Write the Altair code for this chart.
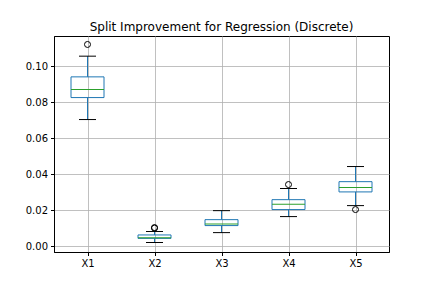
import altair as alt
import pandas as pd

categories = ["X1", "X2", "X3", "X4", "X5"]
whisker_low = [0.0704, 0.0021, 0.0076, 0.0165, 0.0226]
q1 = [0.0826, 0.0044, 0.0115, 0.0204, 0.0302]
median = [0.0871, 0.0048, 0.0124, 0.0233, 0.0326]
q3 = [0.0941, 0.0063, 0.0148, 0.0259, 0.0359]
whisker_high = [0.1056, 0.0082, 0.0198, 0.0321, 0.0443]
outlier_cat = ["X1", "X2", "X2", "X4", "X5"]
outlier_val = [0.1121, 0.0104, 0.0101, 0.0343, 0.0204]
y_ticks = [0.0, 0.02, 0.04, 0.06, 0.08, 0.10]

stats = pd.DataFrame({
    "cat": categories, "lo": whisker_low, "q1": q1, "med": median,
    "q3": q3, "hi": whisker_high,
})
outl = pd.DataFrame({"cat": outlier_cat, "val": outlier_val})

BLUE = "#1f77b4"
GREEN = "#2ca02c"

x = alt.X("cat:N", scale=alt.Scale(type="point", padding=0.5, domain=categories),
          axis=alt.Axis(title=None, labelAngle=0, grid=True))
yscale = alt.Scale(domain=[-0.00317, 0.1168], nice=False, zero=False)
yaxis = alt.Axis(title=None, values=y_ticks, format=".2f", grid=True)

base = alt.Chart(stats)

lower = base.mark_rule(color=BLUE, strokeWidth=1).encode(
    x=x, y=alt.Y("lo:Q", scale=yscale, axis=yaxis), y2="q1:Q")
upper = base.mark_rule(color=BLUE, strokeWidth=1).encode(
    x=x, y=alt.Y("q3:Q", scale=yscale, axis=yaxis), y2="hi:Q")
box = base.mark_bar(size=33, fillOpacity=0, stroke=BLUE, strokeWidth=1).encode(
    x=x, y=alt.Y("q1:Q", scale=yscale, axis=yaxis), y2="q3:Q")
med = base.mark_tick(color=GREEN, size=33, thickness=1, opacity=1).encode(
    x=x, y=alt.Y("med:Q", scale=yscale, axis=yaxis))
cap_lo = base.mark_tick(color="black", size=17, thickness=1, opacity=1).encode(
    x=x, y=alt.Y("lo:Q", scale=yscale, axis=yaxis))
cap_hi = base.mark_tick(color="black", size=17, thickness=1, opacity=1).encode(
    x=x, y=alt.Y("hi:Q", scale=yscale, axis=yaxis))
fliers = alt.Chart(outl).mark_point(shape="circle", filled=False, color="black",
                                    size=36, strokeWidth=1, opacity=1).encode(
    x=x, y=alt.Y("val:Q", scale=yscale, axis=yaxis))

chart = alt.layer(lower, upper, box, med, cap_lo, cap_hi, fliers).properties(
    width=335, height=216,
    background="white",
    title=alt.Title("Split Improvement for Regression (Discrete)", fontSize=12,
                    font="DejaVu Sans", fontWeight="normal", color="black",
                    anchor="middle", offset=2),
    autosize=alt.AutoSizeParams(type="none"),
    padding={"left": 46, "top": 28, "right": 30, "bottom": 28},
).configure_view(stroke="black", strokeWidth=1).configure_axis(
    labelFont="DejaVu Sans", labelFontSize=10, labelColor="black",
    domainColor="black", tickColor="black", tickSize=3.5, labelPadding=3,
    gridColor="#b0b0b0", gridWidth=0.8, gridOpacity=1, domainWidth=1,
)

chart.save("out.html", embed_options={"renderer": "svg", "actions": False})
